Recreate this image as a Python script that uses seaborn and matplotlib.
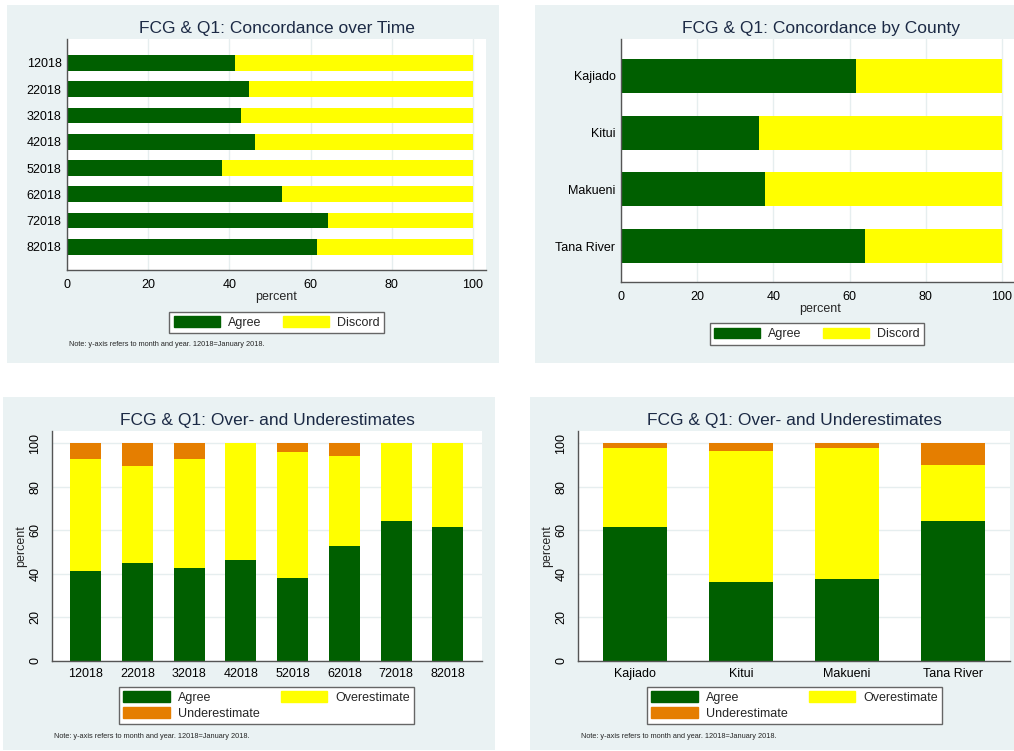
## FCG & Q1 concordance charts (four panels, Stata-like look).
import numpy as np
import pandas as pd
import matplotlib.pyplot as plt
import seaborn as sns
from matplotlib.patches import Patch, Rectangle

# Data.
months = ['12018', '22018', '32018', '42018', '52018', '62018', '72018', '82018']
month_agree = [41.3, 44.8, 42.8, 46.4, 38.3, 52.9, 64.2, 61.5]
month_over = [51.5, 44.6, 49.8, 53.6, 57.6, 41.0, 35.8, 38.5]
month_under = [7.2, 10.6, 7.4, 0.0, 4.1, 6.1, 0.0, 0.0]

counties = ['Kajiado', 'Kitui', 'Makueni', 'Tana River']
county_agree = [61.6, 36.1, 37.7, 64.0]
county_over = [36.1, 60.4, 60.2, 25.7]
county_under = [2.3, 3.5, 2.1, 10.3]

value_ticks = [0, 20, 40, 60, 80, 100]
note = 'Note: y-axis refers to month and year. 12018=January 2018.'

GREEN = '#005f00'
YELLOW = '#ffff00'
ORANGE = '#e57e00'
BG = '#eaf2f3'
GRID = '#e6eeef'
TITLE_C = '#1c2a45'
AXIS_C = '#555555'
FS = 9

sns.set_style('white')
plt.rcParams['font.family'] = ['Liberation Sans', 'DejaVu Sans']

W, H = 1014, 751
fig = plt.figure(figsize=(W / 100, H / 100), dpi=100)


def fbox(x0, y0, x1, y1):
    # pixel box -> figure fraction [left, bottom, width, height]
    return [x0 / W, 1 - y1 / H, (x1 - x0) / W, (y1 - y0) / H]


# grey panel backgrounds
for (x0, y0, x1, y1) in [(7, 5, 499, 363), (535, 5, 1014, 363),
                         (3, 397, 495, 750), (530, 397, 1014, 750)]:
    l, b, w, h = fbox(x0, y0, x1, y1)
    fig.patches.append(Rectangle((l, b), w, h, transform=fig.transFigure,
                                 facecolor=BG, edgecolor='none', zorder=-10))


def style_axes(ax, value_axis):
    ax.set_zorder(1)
    ax.set_facecolor('white')
    for s in ['top', 'right']:
        ax.spines[s].set_visible(False)
    for s in ['left', 'bottom']:
        ax.spines[s].set_color(AXIS_C)
        ax.spines[s].set_linewidth(1)
    ax.set_axisbelow(True)
    ax.grid(axis=value_axis, color=GRID, linewidth=1)
    ax.tick_params(labelsize=FS, colors='black')


def add_legend(ax, handles, cx, cy, ncol):
    ax.legend(handles=handles, loc='center', ncol=ncol,
              bbox_to_anchor=(cx / W, 1 - cy / H), bbox_transform=fig.transFigure,
              fontsize=FS, frameon=True, fancybox=False, edgecolor='#666666',
              framealpha=1, handlelength=3.7, handleheight=0.95,
              handletextpad=0.65, columnspacing=1.7, borderpad=0.35,
              labelspacing=0.3, borderaxespad=0)


def horizontal(ax, cats, agree, title):
    agree = np.array(agree)
    total = agree + (100 - agree)
    sns.barplot(x=total, y=cats, orient='h', color=YELLOW, saturation=1,
                width=0.6, ax=ax, linewidth=0)
    sns.barplot(x=agree, y=cats, orient='h', color=GREEN, saturation=1,
                width=0.6, ax=ax, linewidth=0)
    style_axes(ax, 'x')
    ax.set_xticks(value_ticks)
    ax.tick_params(axis='x', length=3.6, width=1, color=AXIS_C, pad=3)
    ax.tick_params(axis='y', length=0, pad=4)
    ax.set_xlabel('percent', fontsize=FS, labelpad=0)
    ax.set_ylabel('')
    ax.set_title(title, fontsize=12.5, color=TITLE_C, pad=4)


# ---- Panel 1: concordance over time ----
ax1 = fig.add_axes(fbox(67, 39, 486, 270))
horizontal(ax1, months, month_agree, 'FCG & Q1: Concordance over Time')
ax1.set_xlim(0, 100 * 419 / 406)
ax1.set_ylim(7.88, -0.91)
add_legend(ax1, [Patch(color=GREEN, label='Agree'), Patch(color=YELLOW, label='Discord')],
           276.5, 322.5, 2)
fig.text(69 / W, 1 - 344 / H, note, fontsize=5.3, va='center')

# ---- Panel 2: concordance by county ----
ax2 = fig.add_axes(fbox(621, 39, 1020, 282))
horizontal(ax2, counties, county_agree, 'FCG & Q1: Concordance by County')
ax2.set_xlim(0, 100 * 399 / 381)
ax2.set_ylim(3.63, -0.65)
add_legend(ax2, [Patch(color=GREEN, label='Agree'), Patch(color=YELLOW, label='Discord')],
           817, 334, 2)


def stacked_vertical(ax, cats, agree, over, under):
    agree, over, under = map(np.array, (agree, over, under))
    sns.barplot(x=cats, y=agree + over + under, color=ORANGE, saturation=1,
                width=0.6, ax=ax, linewidth=0)
    sns.barplot(x=cats, y=agree + over, color=YELLOW, saturation=1,
                width=0.6, ax=ax, linewidth=0)
    sns.barplot(x=cats, y=agree, color=GREEN, saturation=1,
                width=0.6, ax=ax, linewidth=0)
    style_axes(ax, 'y')
    ax.set_ylim(0, 100 * 230 / 218)
    ax.set_yticks(value_ticks)
    ax.set_yticklabels(value_ticks, rotation=90, va='center')
    ax.tick_params(axis='y', length=3.6, width=1, color=AXIS_C, pad=4)
    ax.tick_params(axis='x', length=0, pad=5)
    ax.set_ylabel('percent', fontsize=FS, labelpad=2)
    ax.set_xlabel('')
    ax.set_title('FCG & Q1: Over- and Underestimates', fontsize=12.5, color=TITLE_C, pad=4)


three = [Patch(color=GREEN, label='Agree'), Patch(color=ORANGE, label='Underestimate'),
         Patch(color=YELLOW, label='Overestimate')]

# ---- Panel 3: over/under by month ----
ax3 = fig.add_axes(fbox(52, 431, 482, 661))
stacked_vertical(ax3, months, month_agree, month_over, month_under)
ax3.set_xlim(-0.65, 7.66)
add_legend(ax3, three, 266.5, 705.5, 2)
fig.text(54 / W, 1 - 737 / H, note, fontsize=5.3, va='center')

# ---- Panel 4: over/under by county ----
ax4 = fig.add_axes(fbox(578, 431, 1010, 661))
stacked_vertical(ax4, counties, county_agree, county_over, county_under)
ax4.set_xlim(-0.54, 3.54)
add_legend(ax4, three, 794.5, 705.5, 2)
fig.text(581 / W, 1 - 737 / H, note, fontsize=5.3, va='center')

plt.savefig('out.png', dpi=100)
